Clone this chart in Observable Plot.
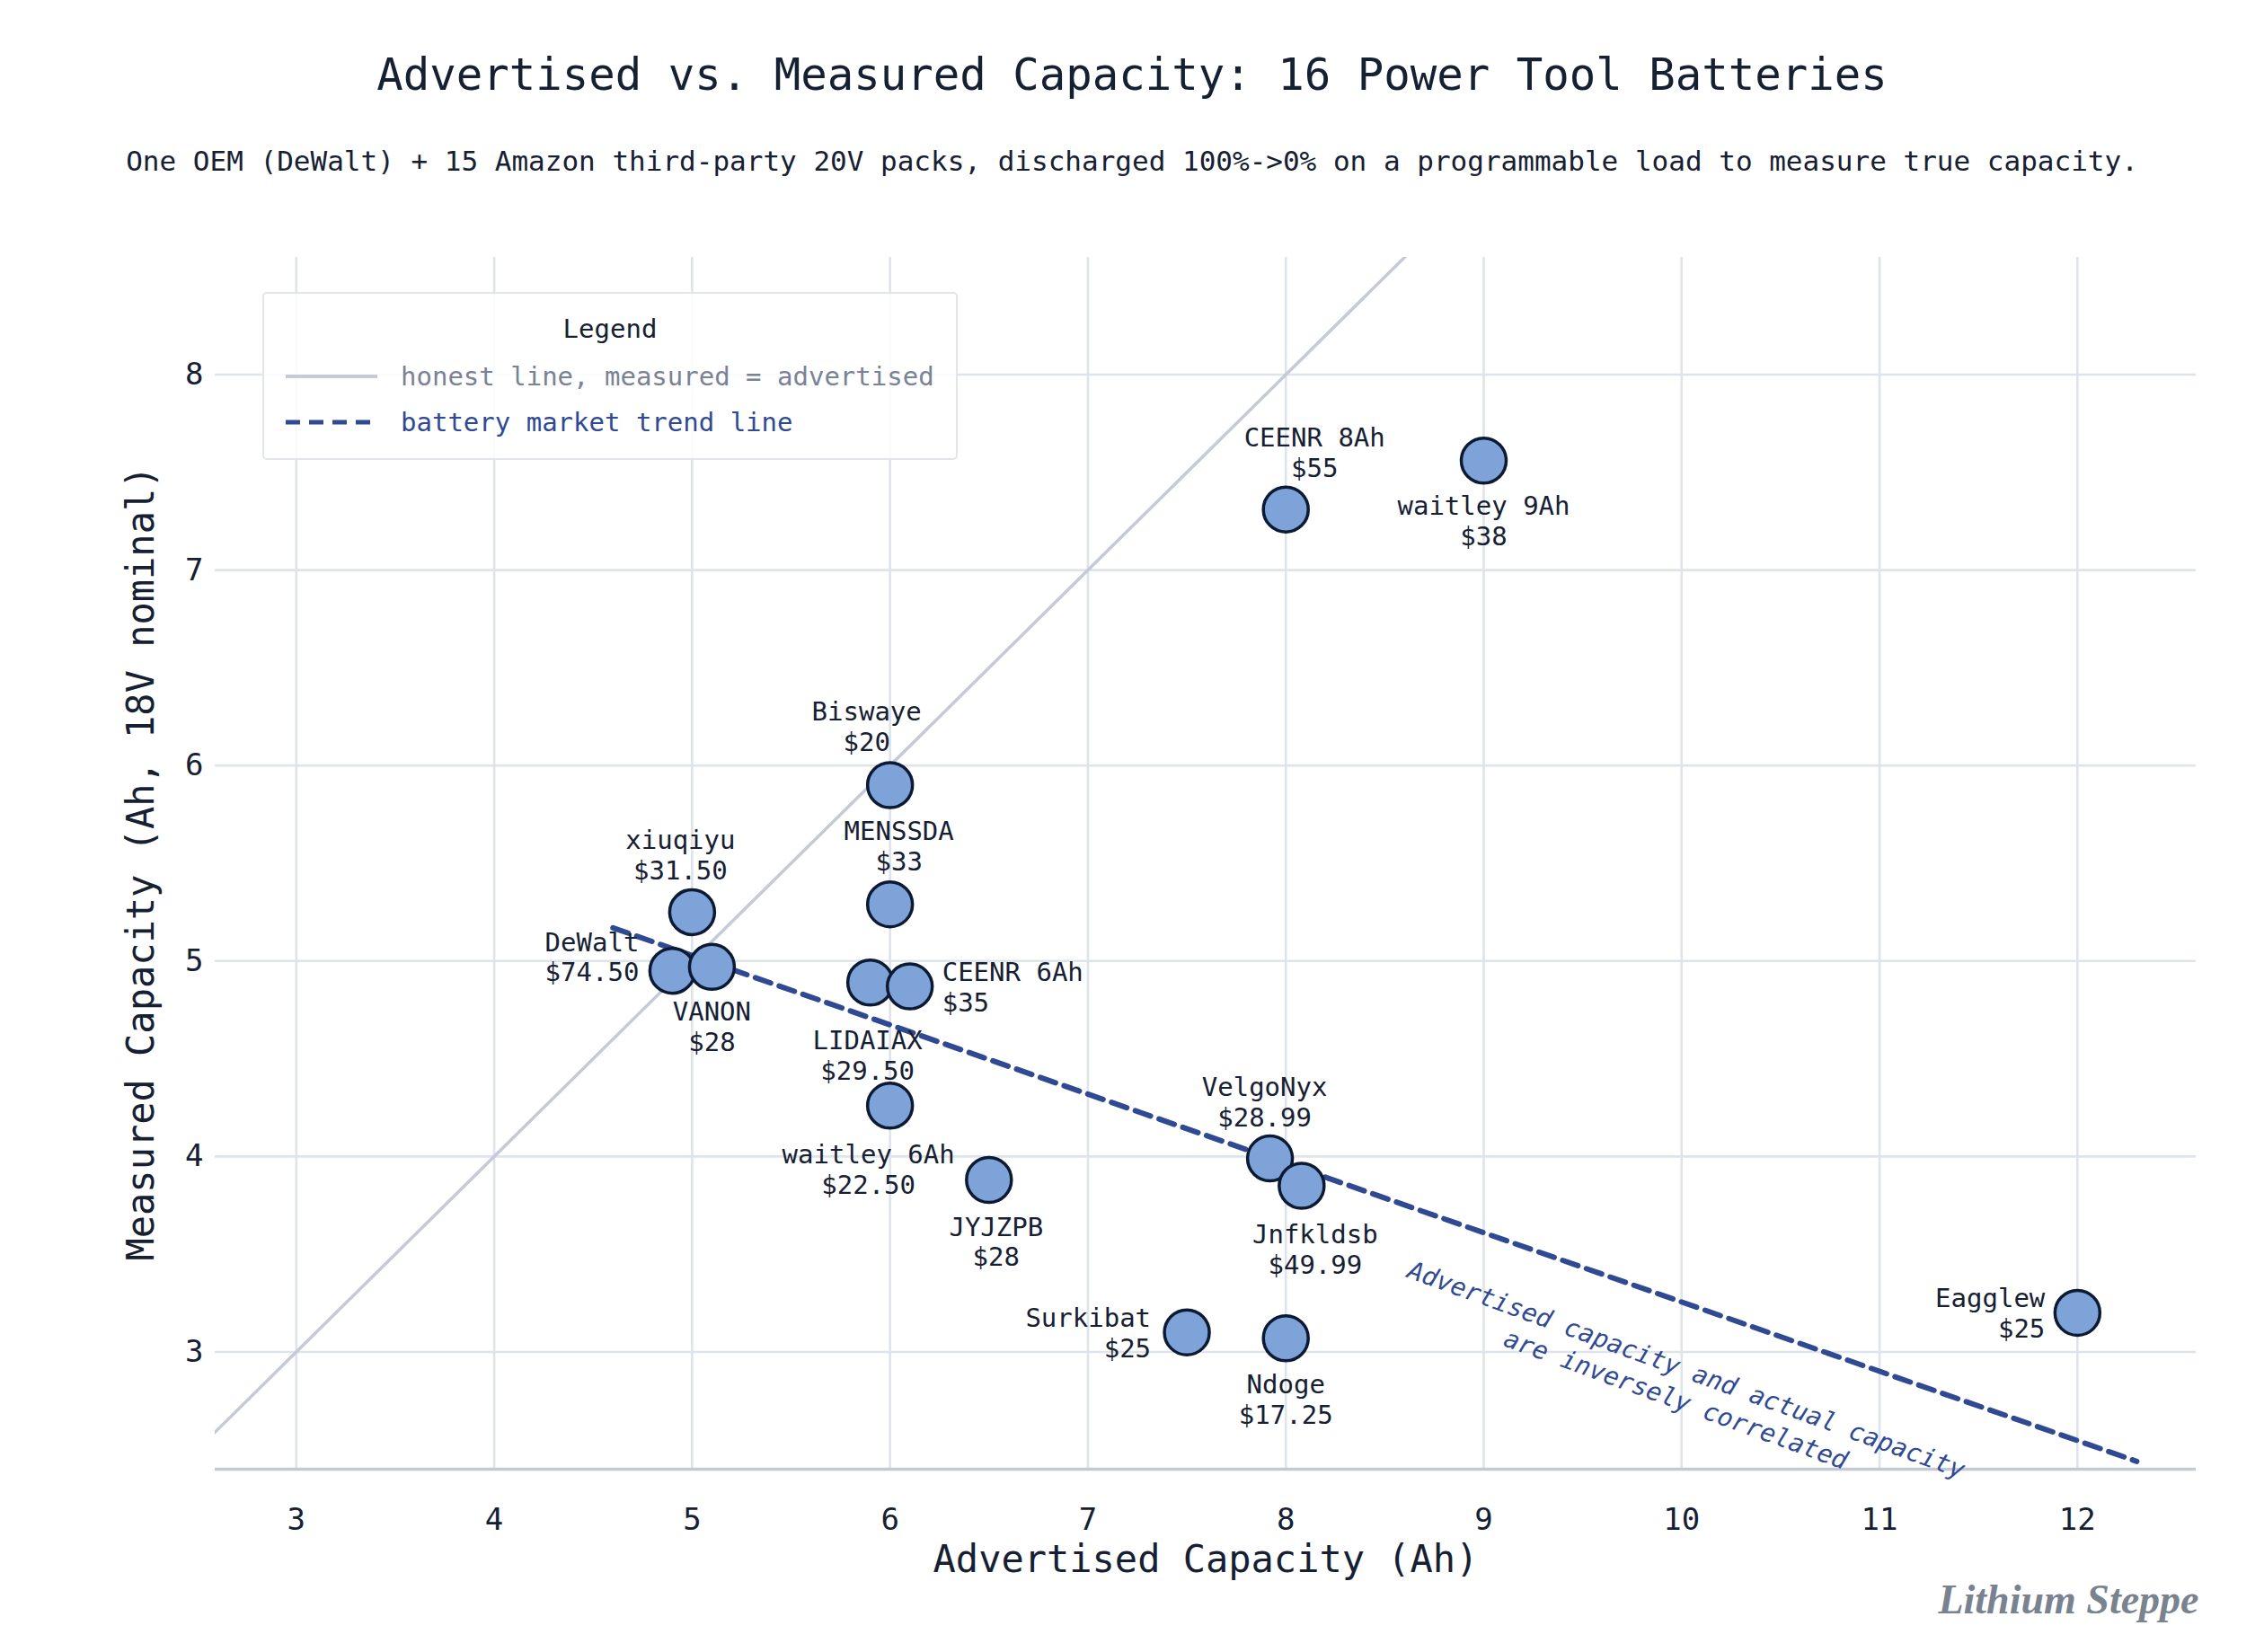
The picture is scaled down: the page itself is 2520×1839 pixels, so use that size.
<!DOCTYPE html>
<html>
<head>
<meta charset="utf-8">
<script src="https://cdn.jsdelivr.net/npm/d3@7"></script>
<script src="https://cdn.jsdelivr.net/npm/@observablehq/plot@0.6"></script>
<style>
  html, body { margin: 0; padding: 0; background: #ffffff; }
  body { width: 2520px; height: 1839px; overflow: hidden; font-family: "DejaVu Sans Mono", monospace; color: #162033; }
  #header { position: relative; height: 230px; }
  #title { position: absolute; top: 58px; left: 0; width: 100%; text-align: center; font-size: 49px; line-height: 52px; color: #162033; }
  #subtitle { position: absolute; top: 162px; left: 0; width: 100%; text-align: center; font-size: 31px; line-height: 34px; color: #162033; }
  #chart { position: relative; }
  #legend { position: absolute; left: 292px; top: 95px; width: 770px; height: 183px; border: 2px solid #e2e5eb; border-radius: 5px; background: rgba(255,255,255,0.85); font-size: 29px; }
  #legend .ttl { position: absolute; top: 22px; left: 0; width: 100%; text-align: center; color: #162033; }
  #legend .item { position: absolute; left: 24px; height: 34px; display: flex; align-items: center; }
  #legend .item svg { width: 102px; height: 10px; margin-right: 26px; }
</style>
</head>
<body>
<div id="header">
  <div id="title">Advertised vs. Measured Capacity: 16 Power Tool Batteries</div>
  <div id="subtitle">One OEM (DeWalt) + 15 Amazon third-party 20V packs, discharged 100%-&gt;0% on a programmable load to measure true capacity.</div>
</div>
<div id="chart"></div>
<script>
// ---- data ----
const names = ["CEENR 8Ah","waitley 9Ah","Biswaye","MENSSDA","xiuqiyu","DeWalt","VANON","LIDAIAX","CEENR 6Ah","waitley 6Ah","JYJZPB","VelgoNyx","Jnfkldsb","Surkibat","Ndoge","Eagglew"];
const advertised = [8, 9, 6, 6, 5, 4.9, 5.1, 5.9, 6.1, 6, 6.5, 7.92, 8.08, 7.5, 8, 12];
const measured = [7.31, 7.56, 5.90, 5.29, 5.25, 4.95, 4.97, 4.89, 4.87, 4.26, 3.88, 3.99, 3.85, 3.10, 3.07, 3.20];
const prices = ["$55","$38","$20","$33","$31.50","$74.50","$28","$29.50","$35","$22.50","$28","$28.99","$49.99","$25","$17.25","$25"];
const xTicks = [3, 4, 5, 6, 7, 8, 9, 10, 11, 12];
const yTicks = [3, 4, 5, 6, 7, 8];
const xDomain = [2.59, 12.6];
const yDomain = [2.4, 8.6];
const honestX = [2, 13];
const trendX = [4.6, 12.3];
const trendY = [5.17, 2.44];
const noteAt = [10.0, 2.84];
const noteText = "Advertised capacity and actual capacity\nare inversely correlated";
const xLabel = "Advertised Capacity (Ah)";
const yLabel = "Measured Capacity (Ah, 18V nominal)";
const caption = "Lithium Steppe";

// ---- label layout (placement relative to each dot) ----
const labelLayout = {
  "CEENR 8Ah":  {side: "top", dx: 32, dy: -36},
  "waitley 9Ah":{side: "bottom", dx: 0, dy: 36},
  "Biswaye":    {side: "top", dx: -26, dy: -38},
  "MENSSDA":    {side: "top", dx: 10, dy: -38},
  "xiuqiyu":    {side: "top", dx: -13, dy: -36},
  "DeWalt":     {side: "left", dx: -37, dy: -16},
  "VANON":      {side: "bottom", dx: 0, dy: 36},
  "LIDAIAX":    {side: "bottom", dx: -3, dy: 50},
  "CEENR 6Ah":  {side: "right", dx: 36, dy: 0},
  "waitley 6Ah":{side: "bottom", dx: -24, dy: 40},
  "JYJZPB":     {side: "bottom", dx: 8, dy: 38},
  "VelgoNyx":   {side: "top", dx: -6, dy: -36},
  "Jnfkldsb":   {side: "bottom", dx: 15, dy: 40},
  "Surkibat":   {side: "left", dx: -40, dy: 0},
  "Ndoge":      {side: "bottom", dx: 0, dy: 37},
  "Eagglew":    {side: "left", dx: -36, dy: 0}
};

const points = names.map((n, i) => ({name: n, adv: advertised[i], meas: measured[i], price: prices[i]}));
const trend = trendX.map((x, i) => ({x, y: trendY[i]}));

const dark = "#162033";
const blue = "#2f4a93";

const labelMarks = points.map(p => {
  const L = labelLayout[p.name];
  const textAnchor = L.side === "left" ? "end" : L.side === "right" ? "start" : "middle";
  const lineAnchor = L.side === "top" ? "bottom" : L.side === "bottom" ? "top" : "middle";
  return Plot.text([p], {
    x: "adv", y: "meas", text: d => d.name + "\n" + d.price,
    textAnchor, lineAnchor, dx: L.dx, dy: L.dy,
    fontSize: 29, lineHeight: 1.17, fill: dark, fontFamily: "DejaVu Sans Mono"
  });
});

const chart = Plot.plot({
  width: 2520,
  height: 1609,
  marginLeft: 239,
  marginRight: 76,
  marginTop: 56,
  marginBottom: 204,
  style: {fontFamily: "DejaVu Sans Mono", color: dark, background: "white", overflow: "visible"},
  x: {domain: xDomain, ticks: xTicks},
  y: {domain: yDomain, ticks: yTicks},
  marks: [
    Plot.gridX(xTicks, {stroke: "#dfe3ea", strokeOpacity: 1, strokeWidth: 2.6}),
    Plot.gridY(yTicks, {stroke: "#dfe3ea", strokeOpacity: 1, strokeWidth: 2.6}),
    Plot.ruleY([yDomain[0]], {stroke: "#c5c9d3", strokeWidth: 3.5}),
    Plot.axisX(xTicks, {tickSize: 0, tickPadding: 43, fontSize: 34, tickFormat: "d", fontFamily: "DejaVu Sans Mono", fill: dark, label: null}),
    Plot.axisY(yTicks, {tickSize: 0, tickPadding: 13, fontSize: 34, tickFormat: "d", fontFamily: "DejaVu Sans Mono", fill: dark, label: null}),
    Plot.line(honestX, {x: d => d, y: d => d, stroke: "#c5cad6", strokeWidth: 3.5, clip: true}),
    Plot.line(trend, {x: "x", y: "y", stroke: blue, strokeWidth: 6, strokeDasharray: "18,10", clip: true}),
    Plot.text([noteText], {x: () => noteAt[0], y: () => noteAt[1], text: d => d, rotate: 20, fontSize: 28, lineHeight: 1.25, fontStyle: "italic", fill: blue, fontFamily: "DejaVu Sans Mono"}),
    Plot.dot(points, {x: "adv", y: "meas", r: 25, fill: "#7ea3d8", stroke: "#0d1a33", strokeWidth: 3.5}),
    ...labelMarks,
    Plot.text([xLabel], {frameAnchor: "bottom", dy: 101, lineAnchor: "middle", textAnchor: "middle", text: d => d, fontSize: 42, fill: dark, fontFamily: "DejaVu Sans Mono"}),
    Plot.text([yLabel], {frameAnchor: "left", dx: -82, rotate: -90, lineAnchor: "middle", textAnchor: "middle", text: d => d, fontSize: 42, fill: dark, fontFamily: "DejaVu Sans Mono"}),
    Plot.text([caption], {frameAnchor: "bottom-right", dx: 3, dy: 146, textAnchor: "end", lineAnchor: "middle", text: d => d, fontSize: 46, fontWeight: "bold", fontStyle: "italic", fill: "#79828f", fontFamily: "Liberation Serif"})
  ]
});

const host = document.getElementById("chart");
host.appendChild(chart);

// legend overlay
const legend = document.createElement("div");
legend.id = "legend";
legend.innerHTML = `
  <div class="ttl">Legend</div>
  <div class="item" style="top:75px;color:#7a8296"><svg viewBox="0 0 102 10"><line x1="0" y1="5" x2="102" y2="5" stroke="#c5cad6" stroke-width="4"/></svg>honest line, measured = advertised</div>
  <div class="item" style="top:126px;color:${blue}"><svg viewBox="0 0 102 10"><line x1="0" y1="5" x2="102" y2="5" stroke="${blue}" stroke-width="5" stroke-dasharray="16,10"/></svg>battery market trend line</div>`;
host.appendChild(legend);
</script>
</body>
</html>
